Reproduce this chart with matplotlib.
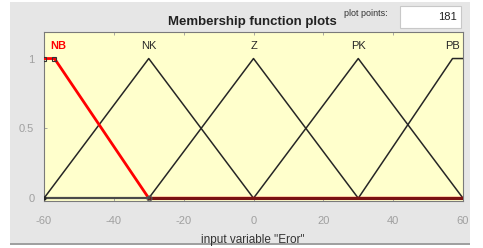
import matplotlib
matplotlib.use("Agg")
import matplotlib.pyplot as plt
from matplotlib.patches import Rectangle
import numpy as np

plt.rcParams['font.family'] = ['Liberation Sans', 'DejaVu Sans']

# data
mf_names = ["NB", "NK", "Z", "PK", "PB"]
mf_x = [[-60, -57, -30, 60],
        [-60, -30, 0, 60],
        [-60, -30, 0, 30, 60],
        [-60, 0, 30, 60],
        [-60, 30, 57, 60]]
mf_y = [[1, 1, 0, 0],
        [0, 1, 0, 0],
        [0, 0, 1, 0, 0],
        [0, 0, 1, 0],
        [0, 0, 1, 1]]
label_x = [-56, -30, 0, 30, 57]
xticks = [-60, -40, -20, 0, 20, 40, 60]
yticks = [0, 0.5, 1]
ytick_labels = ["0", "0.5", "1"]
plot_points = 181

W, H = 483, 248
fig = plt.figure(figsize=(W/100, H/100), dpi=100, facecolor="white")

# gray panel
fig.patches.append(Rectangle((10/W, 1 - 243/H), 460/W, 241/H, transform=fig.transFigure,
                             facecolor="#e6e6e6", edgecolor="none", zorder=0))
fig.patches.append(Rectangle((10/W, 1 - 245/H), 460/W, 2.5/H, transform=fig.transFigure,
                             facecolor="#a0a0a0", edgecolor="none", zorder=0))

ax = fig.add_axes([44/W, 1 - 201/H, 419/W, 169/H])
ax.set_zorder(2)
ax.set_facecolor("#ffffcc")
ax.set_xlim(-60, 60)
ax.set_ylim(-0.02, 1.19)

# black (unselected) MFs
for i in range(1, 5):
    ax.plot(mf_x[i], mf_y[i], color="#262626", lw=1.1, zorder=3)
# selected MF (NB) in red
ax.plot(mf_x[0], mf_y[0], color="#ff0000", lw=2.0, zorder=4)
# bottom zero part of NB shows dark red
ax.plot([mf_x[0][2], mf_x[0][3]], [0, 0], color="#7a1212", lw=2.2, zorder=5)
ax.plot([-60, -30], [0, 0], color="#4a4a4a", lw=1.6, zorder=5)
# handles
ax.plot([-60, -57], [1, 1], ls="none", marker="s", ms=3, mfc="none", mec="#333333", mew=0.8, zorder=6)
ax.plot([-30], [0], ls="none", marker="o", ms=3.5, mfc="none", mec="#555555", mew=0.8, zorder=6)
ax.plot([-60], [0], ls="none", marker="o", ms=2, color="#222222", zorder=6)

for i, name in enumerate(mf_names):
    if i == 0:
        ax.text(label_x[i], 1.09, name, color="#ff0000", fontsize=8, fontweight="bold",
                ha="center", va="center")
    else:
        ax.text(label_x[i], 1.09, name, color="#262626", fontsize=8, ha="center", va="center")

ax.set_xticks(xticks)
ax.set_xticklabels([str(t) for t in xticks])
ax.set_yticks(yticks)
ax.set_yticklabels(ytick_labels)
ax.tick_params(direction="in", length=2.5, width=0.6, colors="#9a9a9a", labelsize=8,
               top=True, labelcolor="#a0a0a0")
ax.tick_params(axis="x", pad=11)
ax.tick_params(axis="y", pad=7)
for s in ax.spines.values():
    s.set_color("#7a7a7a")
    s.set_linewidth(0.8)

fig.text(253/W, 1 - 240/H, 'input variable "Eror"', fontsize=8.5, color="#333333",
         ha="center", va="center")
fig.text(252/W, 1 - 22/H, "Membership function plots", fontsize=9.5, fontweight="bold",
         color="#222222", ha="center", va="center")
fig.text(366/W, 1 - 14/H, "plot points:", fontsize=6.5, color="#333333", ha="center", va="center")
fig.patches.append(Rectangle((400/W, 1 - 28/H), 61/W, 22/H, transform=fig.transFigure,
                             facecolor="white", edgecolor="#c8c8c8", lw=0.8, zorder=1))
fig.text(457/W, 1 - 17/H, str(plot_points), fontsize=8, color="#222222", ha="right", va="center",
         zorder=3)

fig.savefig("out.png", dpi=100, facecolor="white")
